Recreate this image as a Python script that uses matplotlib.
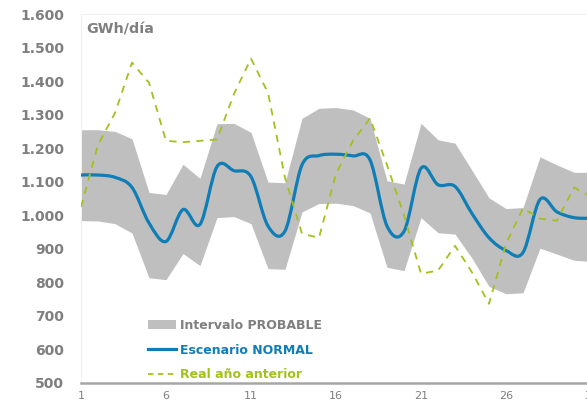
import matplotlib
matplotlib.use("Agg")
import matplotlib.pyplot as plt
from matplotlib.path import Path
from matplotlib.patches import PathPatch, Patch
from matplotlib.lines import Line2D

# --- Data (GWh/día per day of month) ---
days = list(range(1, 32))
upper = [1255, 1255, 1250, 1228, 1068, 1062, 1152, 1110, 1273, 1274, 1247, 1099, 1097, 1289, 1319, 1321,
         1314, 1289, 1103, 1093, 1274, 1225, 1215, 1134, 1052, 1020, 1023, 1174, 1150, 1128, 1128]
lower = [984, 983, 975, 947, 814, 808, 886, 850, 993, 996, 975, 841, 839, 1010, 1035, 1036,
         1029, 1007, 845, 835, 993, 948, 944, 872, 788, 766, 769, 902, 884, 866, 862]
normal = [1120, 1120, 1113, 1083, 977, 922, 1017, 973, 1145, 1133, 1115, 968, 953, 1150, 1178, 1182,
          1177, 1165, 968, 952, 1140, 1091, 1086, 1005, 933, 895, 889, 1047, 1010, 993, 991]
last_year = [1025, 1210, 1305, 1455, 1395, 1222, 1218, 1222, 1226, 1362, 1467, 1365, 1112, 945, 933, 1124,
             1222, 1289, 1150, 1000, 826, 835, 909, 830, 736, 915, 1021, 990, 984, 1083, 1055]

y_ticks = [500, 600, 700, 800, 900, 1000, 1100, 1200, 1300, 1400, 1500, 1600]
y_labels = ["500", "600", "700", "800", "900", "1.000", "1.100", "1.200", "1.300", "1.400", "1.500", "1.600"]
x_ticks = [1, 6, 11, 16, 21, 26, 31]

GRAY_BAND = "#BFBFBF"
BLUE = "#0F7DB6"
GREEN = "#A3C11C"
TEXT_GRAY = "#7F7F7F"


def smooth_path(x, y):
    """Excel-like smoothed line: cubic Bezier through each point."""
    verts = [(x[0], y[0])]
    codes = [Path.MOVETO]
    n = len(x)
    for i in range(n - 1):
        x0, y0 = (x[i - 1], y[i - 1]) if i > 0 else (x[i], y[i])
        x3, y3 = (x[i + 2], y[i + 2]) if i + 2 < n else (x[i + 1], y[i + 1])
        c1 = (x[i] + (x[i + 1] - x0) / 6, y[i] + (y[i + 1] - y0) / 6)
        c2 = (x[i + 1] - (x3 - x[i]) / 6, y[i + 1] - (y3 - y[i]) / 6)
        verts += [c1, c2, (x[i + 1], y[i + 1])]
        codes += [Path.CURVE4] * 3
    return Path(verts, codes)


fig = plt.figure(figsize=(5.87, 4.03), dpi=100)
ax = fig.add_axes([81 / 587, 1 - 383 / 403, (591 - 81) / 587, (383 - 14) / 403])

ax.fill_between(days, lower, upper, color=GRAY_BAND, linewidth=0, zorder=1)
ax.add_patch(PathPatch(smooth_path(days, normal), fill=False, edgecolor=BLUE, linewidth=2.3,
                       capstyle="round", zorder=3))
ax.plot(days, last_year, color=GREEN, linewidth=1.3, linestyle=(0, (4, 3.5)), zorder=4)

ax.set_xlim(1, 31)
ax.set_ylim(500, 1600)
ax.set_yticks(y_ticks)
ax.set_yticklabels(y_labels, fontsize=10, fontweight="bold", color=TEXT_GRAY)
ax.set_xticks(x_ticks)
ax.set_xticklabels([str(d) for d in x_ticks], fontsize=8, color=TEXT_GRAY)
ax.tick_params(axis="both", length=0)
ax.tick_params(axis="y", pad=12)
ax.tick_params(axis="x", pad=6)

for side in ["top", "left", "right"]:
    ax.spines[side].set_color("#F0F0F0")
    ax.spines[side].set_linewidth(0.8)
ax.spines["bottom"].set_color("#A6A6A6")
ax.spines["bottom"].set_linewidth(1.8)

ax.text(0.01, 0.977, "GWh/día", transform=ax.transAxes, fontsize=10.3, fontweight="bold",
        color=TEXT_GRAY, va="top", ha="left")

handles = [
    Patch(facecolor=GRAY_BAND, edgecolor="none"),
    Line2D([], [], color=BLUE, linewidth=2.3),
    Line2D([], [], color=GREEN, linewidth=1.3, linestyle=(0, (3, 2.5))),
]
labels = ["Intervalo PROBABLE", "Escenario NORMAL", "Real año anterior"]
leg = ax.legend(handles, labels, loc="upper left", bbox_to_anchor=(0.12, 0.19), frameon=False,
                prop={"weight": "bold", "size": 9}, handlelength=2.2, handletextpad=0.3,
                labelspacing=0.92, borderpad=0)
for txt, col in zip(leg.get_texts(), [TEXT_GRAY, BLUE, GREEN]):
    txt.set_color(col)

fig.savefig("out.png", dpi=100)
